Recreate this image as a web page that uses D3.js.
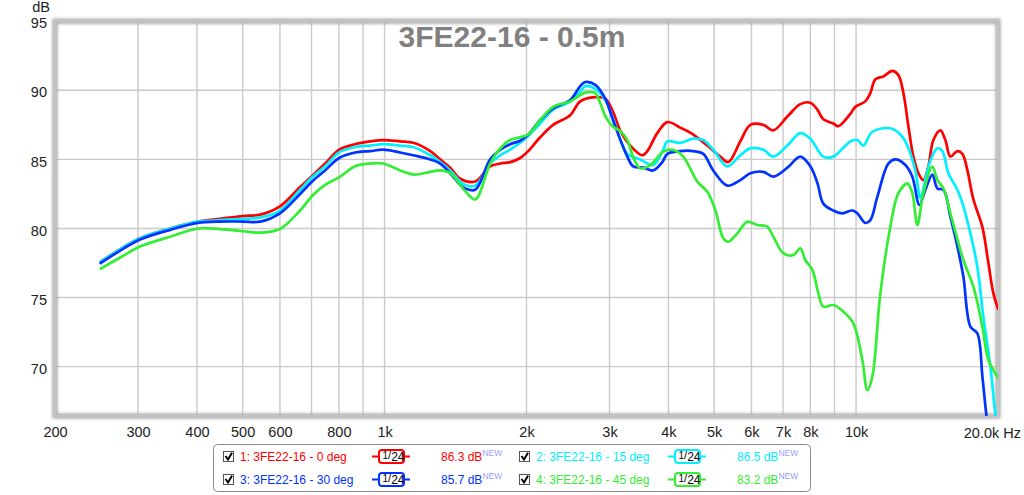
<!DOCTYPE html>
<meta charset="utf-8">
<style>
    body { margin: 0; background: #fff; }
    svg text { font-family: Arial, "Liberation Sans", sans-serif; }
    .axis text { font-size: 14.5px; fill: #222; }
    .axis path, .axis line { display: none; }
    .grid line { stroke: #cacaca; stroke-width: 1.4; }
    .curve { fill: none; stroke-width: 2.7; stroke-linejoin: round; stroke-linecap: round; }
    .legend text { font-size: 12px; }
</style>
<svg width="1024" height="495"></svg>

<script src="https://d3js.org/d3.v7.min.js"></script>
<script>
    // measured curves: [frequency Hz, level dB]
    var deg0 = [[250,77.6],[275,78.5],[303,79.3],[351,80.0],[402,80.5],[448,80.7],[501,80.9],[545,81.0],[600,81.6],[662,83.0],[702,83.8],[748,84.7],[801,85.7],[866,86.1],[932,86.3],[993,86.4],[1079,86.3],[1150,86.2],[1250,85.6],[1312,85.0],[1378,84.4],[1447,83.6],[1557,83.4],[1675,84.5],[1759,84.7],[1847,84.8],[1939,85.1],[2017,85.6],[2138,86.6],[2278,87.5],[2476,88.2],[2600,89.2],[2798,89.5],[2938,89.4],[3055,88.4],[3160,87.1],[3320,86.0],[3520,85.3],[3608,85.6],[3788,86.9],[3978,87.7],[4238,87.3],[4516,86.8],[4836,86.0],[5152,85.2],[5358,84.8],[5682,86.3],[5966,87.5],[6358,87.5],[6676,87.1],[7150,88.1],[7616,89.0],[7998,89.1],[8278,88.6],[8522,87.9],[8948,87.6],[9170,87.4],[9724,88.3],[9964,88.8],[10464,89.2],[10722,89.8],[10990,90.8],[11426,91.0],[11940,91.4],[12296,91.1],[12600,89.8],[12910,87.4],[13230,85.2],[13556,84.0],[13890,83.5],[14236,84.5],[14588,86.4],[15094,87.1],[15466,86.4],[15850,85.2],[16402,85.6],[16808,85.4],[17224,84.2],[17736,82.1],[18532,80.1],[19082,77.5],[19554,75.3],[20000,74.2]];
    var deg15 = [[250,77.6],[275,78.5],[303,79.3],[351,80.0],[402,80.5],[448,80.6],[501,80.7],[545,80.8],[600,81.3],[662,82.8],[702,83.7],[748,84.5],[801,85.5],[866,85.9],[932,86.0],[993,86.1],[1079,86.0],[1150,85.9],[1250,85.3],[1312,84.8],[1378,84.2],[1447,83.4],[1483,83.15],[1557,83.1],[1675,84.7],[1759,85.3],[1847,85.7],[1939,86.2],[2017,86.7],[2138,87.6],[2278,88.6],[2476,89.2],[2600,89.9],[2664,90.3],[2798,90.1],[2938,89.3],[3055,87.9],[3272,85.4],[3484,85.0],[3714,84.6],[3900,85.7],[3978,86.3],[4238,86.2],[4516,86.5],[4742,86.4],[4978,85.7],[5332,84.5],[5682,85.3],[5966,85.8],[6358,85.7],[6676,85.2],[7150,86.0],[7616,86.9],[7998,86.5],[8522,85.2],[8948,85.2],[9724,86.3],[10062,86.4],[10360,86.0],[10826,87.0],[11824,87.25],[12416,86.8],[12848,86.0],[13358,84.2],[13690,82.2],[14098,83.9],[14446,85.1],[14874,85.8],[15242,85.6],[15696,84.0],[16402,82.8],[16890,81.6],[17476,79.65],[18086,77.2],[18622,73.6],[19272,70.0],[19748,66.6],[20000,65.6]];
    var deg30 = [[250,77.5],[275,78.4],[303,79.2],[351,79.9],[402,80.4],[448,80.5],[501,80.5],[545,80.5],[600,81.1],[662,82.5],[702,83.4],[748,84.2],[801,85.1],[866,85.5],[932,85.6],[993,85.7],[1079,85.5],[1150,85.3],[1250,85.0],[1312,84.7],[1378,84.0],[1447,83.15],[1483,82.9],[1557,82.8],[1675,85.0],[1759,85.7],[1847,86.1],[1939,86.35],[2017,86.8],[2138,87.85],[2278,88.7],[2476,89.3],[2600,90.3],[2664,90.6],[2798,90.4],[2938,89.4],[3055,87.8],[3272,85.2],[3368,84.5],[3538,84.4],[3714,84.2],[3882,84.8],[3978,85.4],[4238,85.6],[4516,85.6],[4742,85.4],[4978,84.2],[5332,83.1],[5682,83.5],[5966,84.0],[6358,84.1],[6676,83.75],[7150,84.4],[7616,85.2],[7998,84.5],[8278,83.3],[8522,81.8],[8948,81.3],[9350,81.1],[9820,81.3],[10062,81.1],[10464,80.4],[10722,80.6],[11096,82.3],[11708,84.7],[12114,85.0],[12722,84.6],[13164,83.75],[13624,81.7],[14030,82.8],[14514,83.9],[14874,82.9],[15318,82.8],[15850,80.85],[16402,78.7],[16890,76.5],[17476,72.9],[18086,72.4],[18532,69.3],[18898,66.5],[19272,64.5],[20000,62.0]];
    var deg45 = [[250,77.1],[275,77.9],[303,78.7],[351,79.4],[402,80.0],[448,79.96],[501,79.8],[545,79.7],[600,79.96],[662,81.3],[702,82.35],[748,83.15],[801,83.7],[866,84.5],[932,84.7],[993,84.7],[1079,84.2],[1150,83.9],[1250,84.1],[1312,84.2],[1378,84.0],[1447,83.15],[1483,82.7],[1557,82.1],[1675,84.7],[1759,85.8],[1847,86.4],[1939,86.6],[2017,86.8],[2138,87.85],[2278,88.8],[2476,89.2],[2600,89.66],[2664,89.83],[2798,89.8],[2866,89.08],[2952,88.0],[3055,87.34],[3160,87.05],[3272,86.4],[3368,85.17],[3484,84.36],[3660,84.59],[3900,85.56],[4096,85.68],[4300,85.2],[4606,83.39],[4836,82.66],[5028,81.34],[5230,79.29],[5358,79.04],[5600,79.65],[5878,80.49],[6172,80.25],[6482,80.13],[6676,79.41],[7008,78.21],[7362,78.08],[7616,78.57],[7804,77.72],[8078,77.0],[8318,75.31],[8522,74.34],[8948,74.46],[9398,73.98],[9868,73.14],[10312,70.48],[10568,68.31],[10826,69.28],[11260,75.31],[11824,80.13],[12296,82.55],[12848,83.27],[13164,82.55],[13490,80.25],[13890,82.55],[14514,84.47],[14874,83.51],[15318,82.91],[15850,81.1],[16890,77.72],[17736,75.79],[18532,72.89],[19082,70.48],[19940,69.28],[20000,69.2]];

    var seriesData = [deg0, deg15, deg30, deg45];
    var seriesNames = ["1: 3FE22-16 - 0 deg", "2: 3FE22-16 - 15 deg", "3: 3FE22-16 - 30 deg", "4: 3FE22-16 - 45 deg"];
    var seriesLevels = ["86.3 dB", "86.5 dB", "85.7 dB", "83.2 dB"];
    var seriesColors = ["#ff0000", "#00f0ff", "#0033ff", "#33ee33"];

    var gridFreqs = [300,400,500,600,700,800,900,1000,2000,3000,4000,5000,6000,7000,8000,9000,10000];
    var labelFreqs = [200,300,400,500,600,800,1000,2000,3000,4000,5000,6000,7000,8000,10000];
    var labelTexts = ["200","300","400","500","600","800","1k","2k","3k","4k","5k","6k","7k","8k","10k"];
    var dbTicks = [70,75,80,85,90,95];

    var svg = d3.select("svg"),
        plotL = 55, plotR = 998, plotT = 21.2, plotB = 416;

    var x = d3.scaleLog().domain([200, 20000]).range([plotL, plotR]);
    var y = d3.scaleLinear().domain([66.43, 95]).range([plotB, plotT]);

    var defs = svg.append("defs");
    defs.append("clipPath").attr("id", "plot")
        .append("rect").attr("x", plotL).attr("y", plotT).attr("width", plotR - plotL).attr("height", plotB - plotT);
    var sh = defs.append("filter").attr("id", "shadow").attr("x", "-5%").attr("y", "-5%").attr("width", "110%").attr("height", "110%");
    sh.append("feGaussianBlur").attr("stdDeviation", 1.6);

    // grid
    var grid = svg.append("g").attr("class", "grid");
    grid.selectAll(".v").data(gridFreqs).enter().append("line")
        .attr("x1", function(d) { return x(d); }).attr("x2", function(d) { return x(d); })
        .attr("y1", plotT).attr("y2", plotB);
    grid.selectAll(".h").data(dbTicks.filter(function(d) { return d < 95; })).enter().append("line")
        .attr("x1", plotL).attr("x2", plotR)
        .attr("y1", function(d) { return y(d); }).attr("y2", function(d) { return y(d); });

    // frame with soft shadow
    svg.append("rect").attr("x", plotL).attr("y", plotT).attr("width", plotR - plotL).attr("height", plotB - plotT)
        .attr("fill", "none").attr("stroke", "#a8a8a8").attr("stroke-width", 5).attr("filter", "url(#shadow)");
    svg.append("rect").attr("x", plotL).attr("y", plotT).attr("width", plotR - plotL).attr("height", plotB - plotT)
        .attr("fill", "none").attr("stroke", "#c4c4c4").attr("stroke-width", 2.2);

    // title
    svg.append("text").attr("x", 512).attr("y", 47).attr("text-anchor", "middle")
        .style("font-size", "30px").style("font-weight", "bold").attr("fill", "#808080")
        .text("3FE22-16 - 0.5m");

    // curves
    var line = d3.line()
        .x(function(d) { return x(d[0]); })
        .y(function(d) { return y(d[1]); })
        .curve(d3.curveCatmullRom.alpha(0.5));
    svg.append("g").attr("clip-path", "url(#plot)")
        .selectAll("path").data(seriesData).enter().append("path")
        .attr("class", "curve")
        .attr("stroke", function(d, i) { return seriesColors[i]; })
        .attr("d", line);

    // axes
    svg.append("g").attr("class", "axis").attr("transform", "translate(0," + (plotB + 1) + ")")
        .call(d3.axisBottom(x).tickValues(labelFreqs).tickSize(0).tickPadding(10)
            .tickFormat(function(d, i) { return labelTexts[i]; }));
    svg.append("text").attr("x", 1021).attr("y", 437.5).attr("text-anchor", "end")
        .style("font-size", "14.5px").attr("fill", "#222").text("20.0k Hz");
    svg.append("g").attr("class", "axis").attr("transform", "translate(" + (plotL - 8) + ",2)")
        .call(d3.axisLeft(y).tickValues(dbTicks).tickSize(0).tickPadding(0));
    svg.append("text").attr("x", 50).attr("y", 12).attr("text-anchor", "end")
        .style("font-size", "14.5px").attr("fill", "#222").text("dB");

    // legend
    var lg = svg.append("g").attr("class", "legend");
    lg.append("rect").attr("x", 213.5).attr("y", 444.5).attr("width", 597).attr("height", 47)
        .attr("rx", 4).attr("fill", "#fff").attr("stroke", "#8c8c8c");

    seriesNames.forEach(function(name, i) {
        var ox = (i % 2) * 296, oy = Math.floor(i / 2) * 23, c = seriesColors[i];
        var g = lg.append("g").attr("transform", "translate(" + ox + "," + oy + ")");
        g.append("rect").attr("x", 223.5).attr("y", 451.5).attr("width", 10).attr("height", 10)
            .attr("fill", "#fff").attr("stroke", "#555");
        g.append("path").attr("d", "M225.5,456 L228,459.5 L232,452.8").attr("fill", "none")
            .attr("stroke", "#000").attr("stroke-width", 2);
        g.append("text").attr("x", 240).attr("y", 461).attr("fill", c).text(name);
        g.append("line").attr("x1", 372).attr("x2", 410).attr("y1", 456.5).attr("y2", 456.5)
            .attr("stroke", c).attr("stroke-width", 2);
        g.append("rect").attr("x", 379).attr("y", 450).attr("width", 25).attr("height", 13).attr("rx", 3)
            .attr("fill", "#fff").attr("stroke", c).attr("stroke-width", 2);
        var t = g.append("text").attr("x", 382.5).attr("y", 460.5).attr("fill", "#000");
        t.append("tspan").attr("dy", -2).style("font-size", "10px").text("1");
        t.append("tspan").attr("dy", 0).style("font-size", "11px").text("/");
        t.append("tspan").attr("dy", 2.5).text("24");
        var v = g.append("text").attr("x", 441).attr("y", 461).attr("fill", c).text(seriesLevels[i]);
        v.append("tspan").attr("dy", -5).attr("fill", "#9a9aff").style("font-size", "8.5px").text("NEW");
    });
</script>
